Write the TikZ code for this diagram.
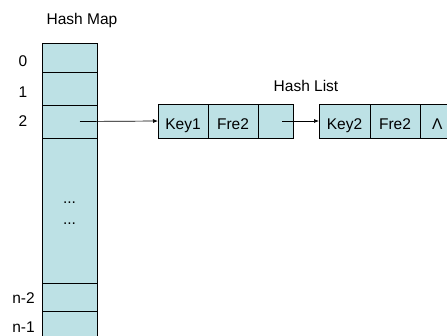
\documentclass[tikz,border=0pt]{standalone}
\usepackage{fontspec}
\setmainfont{Liberation Sans}
\usetikzlibrary{arrows.meta}
\definecolor{cellfill}{RGB}{189,225,229}
\begin{document}
\begin{tikzpicture}[x=1pt,y=-1pt,
  cell/.style={draw=black,line width=0.8pt,fill=cellfill,inner sep=0pt,outer sep=0pt,text height=16pt,text depth=0pt,font=\fontsize{15.5}{18}\selectfont},
  lbl/.style={inner sep=0pt,anchor=base,font=\fontsize{15.5}{18}\selectfont},
  link/.style={line width=0.7pt,-{Latex[length=5pt,width=4pt]}}]
\useasboundingbox (0,0) rectangle (447,335);
\begin{scope}
\clip (0,0) rectangle (447,335);
% hash map column
\node[cell,minimum width=55pt,minimum height=29pt] (c0) at (69.5,57.5) {};
\node[cell,minimum width=55pt,minimum height=33pt] (c1) at (69.5,88.5) {};
\node[cell,minimum width=55pt,minimum height=33pt] (c2) at (69.5,121.5) {};
\node[cell,minimum width=55pt,minimum height=145pt] (cm) at (69.5,210.5) {};
\node[cell,minimum width=55pt,minimum height=28pt] (cn2) at (69.5,297) {};
\node[cell,minimum width=55pt,minimum height=34pt] (cn1) at (69.5,328) {};
\node[lbl] (d1) at (69.5,203) {...};
\node[lbl] (d2) at (69.5,224) {...};
% list 1
\node[cell,minimum width=50pt,minimum height=34pt] (k1) at (183,121) {Key1};
\node[cell,minimum width=50pt,minimum height=34pt] (f1) at (233,121) {Fre2};
\node[cell,minimum width=35pt,minimum height=34pt] (p1) at (275.5,121) {};
% list 2
\node[cell,minimum width=51pt,minimum height=34pt] (k2) at (344.5,121) {Key2};
\node[cell,minimum width=50pt,minimum height=34pt] (f2) at (395,121) {Fre2};
\node[cell,minimum width=50pt,minimum height=34pt] (p2) at (445,121) {};
\node[lbl,anchor=base west] (nul) at (432,129) {Λ};
\end{scope}
% labels
\node[lbl] (hm) at (82,24) {Hash Map};
\node[lbl] (hl) at (306,91) {Hash List};
\node[lbl] (l0) at (23,66) {0};
\node[lbl] (l1) at (23,97) {1};
\node[lbl] (l2) at (23,126) {2};
\node[lbl] (ln2) at (23.5,303) {n-2};
\node[lbl] (ln1) at (23.5,332) {n-1};
% links
\coordinate (s1) at (80,121.5);
\coordinate (s2) at (282,121);
\draw[link] (s1) -- (k1.west);
\draw[link] (s2) -- (k2.west);
\end{tikzpicture}
\end{document}
